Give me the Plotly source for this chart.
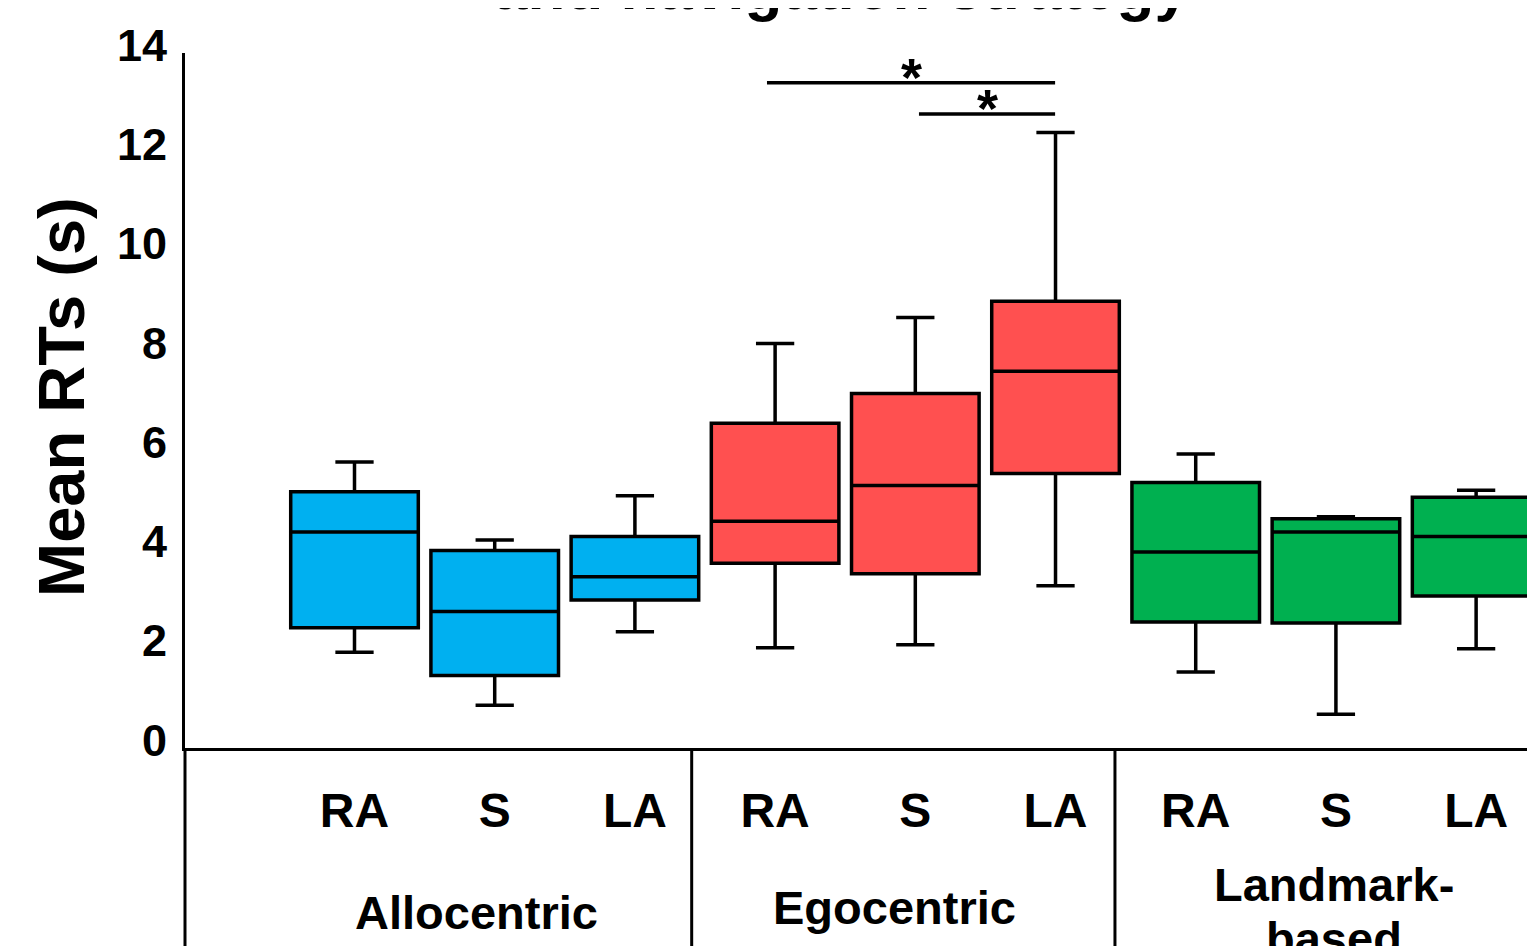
import plotly.graph_objects as go

# ---------------- data ----------------
CATEGORIES = ["RA", "S", "LA"]
GROUPS = ["Allocentric", "Egocentric", "Landmark-", "based"]
COLORS = ["#00B0F0", "#FF5050", "#00B050"]

allo_lower = [1.93, 0.86, 2.34]
allo_q1 = [2.42, 1.46, 2.98]
allo_median = [4.35, 2.75, 3.45]
allo_q3 = [5.16, 3.98, 4.26]
allo_upper = [5.76, 4.19, 5.08]

ego_lower = [2.02, 2.08, 3.27]
ego_q1 = [3.72, 3.51, 5.53]
ego_median = [4.57, 5.29, 7.59]
ego_q3 = [6.54, 7.14, 9.00]
ego_upper = [8.15, 8.67, 12.40]

land_lower = [1.53, 0.68, 2.00]
land_q1 = [2.54, 2.52, 3.06]
land_median = [3.95, 4.35, 4.26]
land_q3 = [5.35, 4.62, 5.05]
land_upper = [5.92, 4.66, 5.19]

Y_TICKS = [0, 2, 4, 6, 8, 10, 12, 14]

# significance comparisons (x from, x to, bar height)
SIG_BARS = [(2.942, 4.997, 13.40), (4.026, 4.997, 12.77)]

# ---------------- layout constants ----------------
PAGE_OFFSET = 8  # default page margin of the html body
X_RANGE = [-1.209, 8.477]
DIVIDERS = [X_RANGE[0], 2.405, 5.424]
GROUP_LABEL_X = [0.870, 3.852, 6.983, 6.983]
GROUP_LABEL_PY = [912, 908, 884, 938]   # pixel centres on the page
FONT = "Arial, Liberation Sans, sans-serif"
W, H = 1535, 946
M_L, M_R, M_T = 185 - PAGE_OFFSET, 0, 53 - PAGE_OFFSET
M_B = H - (748 - PAGE_OFFSET)
PLOT_H = H - M_T - M_B
PLOT_W = W - M_L - M_R


def px_to_paper_y(py):
    return (H - M_B - (py - PAGE_OFFSET)) / PLOT_H


def px_to_paper_x(px):
    return (px - PAGE_OFFSET - M_L) / PLOT_W


def data_to_paper_x(x):
    return (x - X_RANGE[0]) / (X_RANGE[1] - X_RANGE[0])


fig = go.Figure()
groups = [
    (allo_lower, allo_q1, allo_median, allo_q3, allo_upper),
    (ego_lower, ego_q1, ego_median, ego_q3, ego_upper),
    (land_lower, land_q1, land_median, land_q3, land_upper),
]
for gi, (lo, q1, med, q3, up) in enumerate(groups):
    xs = [gi * len(CATEGORIES) + i for i in range(len(CATEGORIES))]
    fig.add_trace(go.Box(
        x=xs, lowerfence=lo, q1=q1, median=med, q3=q3, upperfence=up,
        fillcolor=COLORS[gi], line=dict(color="black", width=3.5),
        width=0.91, whiskerwidth=0.30, boxpoints=False, showlegend=False,
        hoverinfo="skip",
    ))

tick_vals = list(range(len(CATEGORIES) * 3))
tick_text = CATEGORIES * 3

shapes = []
for x0, x1, y in SIG_BARS:
    shapes.append(dict(type="line", xref="x", yref="y", x0=x0, x1=x1, y0=y, y1=y,
                       line=dict(color="black", width=3.5)))
for d in DIVIDERS:
    px = data_to_paper_x(d)
    shapes.append(dict(type="line", xref="paper", yref="paper", x0=px, x1=px,
                       y0=0, y1=-0.35, line=dict(color="black", width=3)))

annotations = []
for x0, x1, y in SIG_BARS:
    annotations.append(dict(x=(x0 + x1) / 2, y=y, xref="x", yref="y", text="*",
                            showarrow=False, yanchor="middle", xanchor="center", yshift=6,
                            font=dict(family=FONT, size=54, color="black", weight="bold")))
for label, gx, gpy in zip(GROUPS, GROUP_LABEL_X, GROUP_LABEL_PY):
    annotations.append(dict(x=gx, y=px_to_paper_y(gpy), xref="x", yref="paper", text=label,
                            showarrow=False, xanchor="center", yanchor="middle",
                            font=dict(family=FONT, size=47, color="black", weight="bold")))
annotations.append(dict(x=px_to_paper_x(61), y=px_to_paper_y(397), xref="paper", yref="paper",
                        text="Mean RTs (s)", textangle=-90, showarrow=False,
                        xanchor="center", yanchor="middle",
                        font=dict(family=FONT, size=65, color="black", weight="bold")))
annotations.append(dict(x=px_to_paper_x(841), y=px_to_paper_y(-12), xref="paper", yref="paper",
                        text="and navigation strategy", showarrow=False,
                        xanchor="center", yanchor="middle",
                        font=dict(family=FONT, size=62, color="black", weight="bold")))

fig.update_layout(
    width=W, height=H,
    margin=dict(l=M_L, r=M_R, t=M_T, b=M_B, pad=0),
    paper_bgcolor="white", plot_bgcolor="white",
    boxmode="overlay",
    showlegend=False,
    xaxis=dict(range=X_RANGE, showgrid=False, zeroline=False, showline=True,
               linecolor="black", linewidth=3, ticks="", tickvals=tick_vals,
               ticktext=tick_text, ticklabelstandoff=18,
               tickfont=dict(family=FONT, size=48, color="black", weight="bold")),
    yaxis=dict(range=[0, 14], showgrid=False, zeroline=False, showline=True,
               linecolor="black", linewidth=3, ticks="", tickvals=Y_TICKS,
               ticklabelstandoff=6, ticklabelshift=-8,
               tickfont=dict(family=FONT, size=45, color="black", weight="bold")),
    shapes=shapes,
    annotations=annotations,
)

fig.write_html("out.html")
